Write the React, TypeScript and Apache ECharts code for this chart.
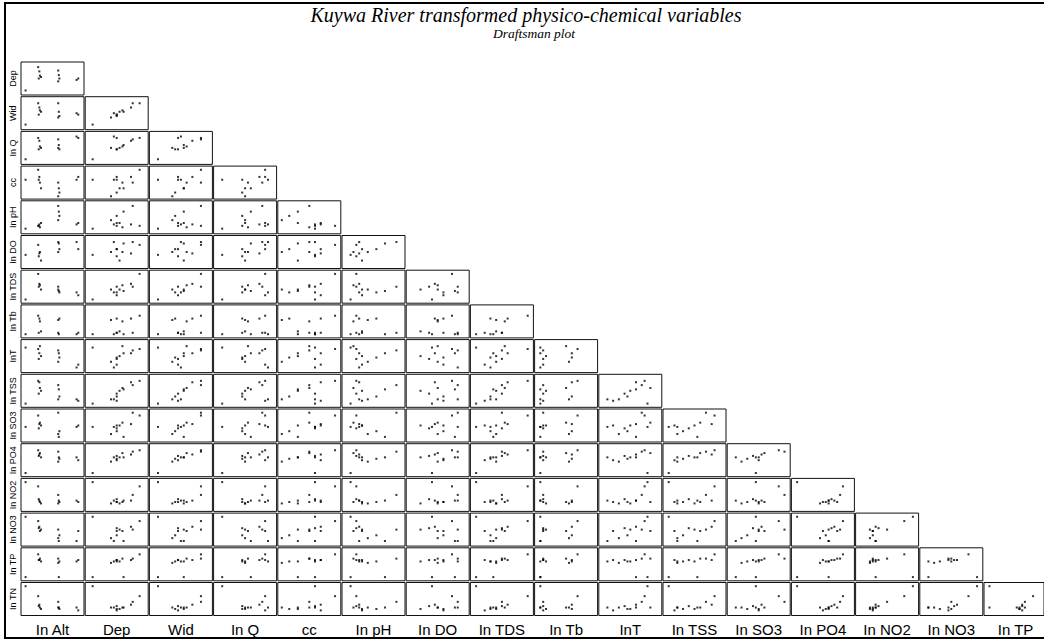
import React, { useEffect, useRef } from "react";
import * as echarts from "echarts";

// Column (x) variables and row (y) variables
const colLabels = ["In Alt", "Dep", "Wid", "In Q", "cc", "In pH", "In DO", "In TDS", "In Tb", "InT", "In TSS", "In SO3", "In PO4", "In NO2", "In NO3", "In TP"];
const rowLabels = ["Dep", "Wid", "In Q", "cc", "In pH", "In DO", "In TDS", "In Tb", "InT", "In TSS", "In SO3", "In PO4", "In NO2", "In NO3", "In TP", "In TN"];

// Scaled (0-1) transformed values per variable, 12 sampling sites
const alt = [0.03, 0.25, 0.27, 0.28, 0.30, 0.26, 0.60, 0.61, 0.62, 0.60, 0.92, 0.95];
const dep = [0.08, 0.9, 0.75, 0.6, 0.55, 0.5, 0.78, 0.62, 0.5, 0.4, 0.45, 0.5];
const wid = [0.1, 0.85, 0.7, 0.6, 0.55, 0.45, 0.85, 0.55, 0.4, 0.35, 0.5, 0.45];
const q = [0.1, 0.85, 0.75, 0.55, 0.5, 0.45, 0.8, 0.6, 0.45, 0.5, 0.9, 0.85];
const cc = [0.6, 0.95, 0.7, 0.5, 0.3, 0.6, 0.5, 0.3, 0.15, 0.02, 0.6, 0.7];
const ph = [0.1, 0.2, 0.25, 0.15, 0.3, 0.2, 0.9, 0.7, 0.55, 0.4, 0.25, 0.3];
const dO = [0.4, 0.75, 0.45, 0.5, 0.2, 0.35, 0.85, 0.8, 0.6, 0.5, 0.85, 0.6];
const tds = [0.05, 0.95, 0.6, 0.55, 0.4, 0.5, 0.5, 0.35, 0.3, 0.4, 0.3, 0.2];
const tb = [0.05, 0.7, 0.6, 0.5, 0.15, 0.1, 0.1, 0.05, 0.6, 0.55, 0.05, 0.1];
const temp = [0.8, 0.75, 0.6, 0.85, 0.5, 0.4, 0.7, 0.6, 0.45, 0.3, 0.1, 0.2];
const tss = [0.05, 0.85, 0.8, 0.6, 0.5, 0.4, 0.7, 0.55, 0.3, 0.2, 0.2, 0.15];
const so3 = [0.45, 0.85, 0.55, 0.6, 0.5, 0.4, 0.95, 0.1, 0.3, 0.2, 0.45, 0.5];
const po4 = [0.05, 0.85, 0.7, 0.75, 0.6, 0.65, 0.8, 0.6, 0.55, 0.45, 0.6, 0.5];
const no2 = [0.95, 0.8, 0.3, 0.25, 0.2, 0.35, 0.5, 0.3, 0.25, 0.2, 0.3, 0.25];
const no3 = [0.95, 0.8, 0.6, 0.45, 0.5, 0.55, 0.5, 0.1, 0.3, 0.2, 0.1, 0.45];
const tp = [0.05, 0.85, 0.65, 0.7, 0.6, 0.65, 0.7, 0.05, 0.6, 0.55, 0.6, 0.65];
const tn = [0.95, 0.6, 0.3, 0.2, 0.15, 0.25, 0.4, 0.2, 0.15, 0.2, 0.2, 0.1];

const colData = [alt, dep, wid, q, cc, ph, dO, tds, tb, temp, tss, so3, po4, no2, no3, tp];
const rowData = [dep, wid, q, cc, ph, dO, tds, tb, temp, tss, so3, po4, no2, no3, tp, tn];

const titleText = "Kuywa River transformed physico-chemical variables";
const subtitleText = "Draftsman plot";

export default function App() {
  const ref = useRef<HTMLDivElement>(null);
  useEffect(() => {
    if (!ref.current) return;
    const chart = echarts.init(ref.current, null, { renderer: "svg" });
    const left0 = 21, colStep = 64.2, pw = 63;
    const top0 = 62, rowStep = 34.7, ph2 = 33;
    const grids: any[] = [];
    const xAxes: any[] = [];
    const yAxes: any[] = [];
    const series: any[] = [];
    const graphics: any[] = [];
    let k = 0;
    for (let r = 0; r < rowLabels.length; r++) {
      for (let c = 0; c <= r; c++) {
        grids.push({
          left: left0 + c * colStep,
          top: top0 + r * rowStep,
          width: pw,
          height: ph2,
          show: true,
          borderColor: "#111",
          borderWidth: 1,
          backgroundColor: "#fff",
          containLabel: false,
        });
        xAxes.push({ type: "value", gridIndex: k, min: -0.05, max: 1.05, show: false });
        yAxes.push({ type: "value", gridIndex: k, min: -0.08, max: 1.08, show: false });
        const xs = colData[c];
        const ys = rowData[r];
        series.push({
          type: "scatter",
          xAxisIndex: k,
          yAxisIndex: k,
          symbol: "rect",
          symbolSize: 2,
          itemStyle: { color: "#000" },
          data: xs.map((x, i) => [x, ys[i]]),
          silent: true,
        });
        k++;
      }
      graphics.push({
        type: "text",
        x: 12.5,
        y: top0 + r * rowStep + ph2 / 2,
        rotation: Math.PI / 2,
        style: {
          text: rowLabels[r],
          fontFamily: "Liberation Sans, Arial, sans-serif",
          fontSize: 9,
          fill: "#000",
          align: "center",
          verticalAlign: "middle",
        },
      });
    }
    colLabels.forEach((lab, c) => {
      graphics.push({
        type: "text",
        x: left0 + c * colStep + pw / 2,
        y: 629,
        style: {
          text: lab,
          fontFamily: "Liberation Sans, Arial, sans-serif",
          fontSize: 15,
          fill: "#000",
          align: "center",
          verticalAlign: "middle",
        },
      });
    });
    graphics.push({
      type: "text",
      x: 526,
      y: 15,
      style: {
        text: titleText,
        fontFamily: "Liberation Serif, Times New Roman, serif",
        fontStyle: "italic",
        fontSize: 20,
        fill: "#000",
        align: "center",
        verticalAlign: "middle",
      },
    });
    graphics.push({
      type: "text",
      x: 534,
      y: 33,
      style: {
        text: subtitleText,
        fontFamily: "Liberation Serif, Times New Roman, serif",
        fontStyle: "italic",
        fontSize: 13.5,
        fill: "#000",
        align: "center",
        verticalAlign: "middle",
      },
    });
    graphics.push({
      type: "rect",
      shape: { x: 5, y: 3, width: 1045, height: 635 },
      style: { fill: "none", stroke: "#000", lineWidth: 2 },
      z: 100,
    });
    chart.setOption({
      animation: false,
      backgroundColor: "#fff",
      grid: grids,
      xAxis: xAxes,
      yAxis: yAxes,
      series,
      graphic: graphics,
    });
    return () => chart.dispose();
  }, []);
  return (
    <div
      ref={ref}
      style={{ position: "fixed", left: 0, top: 0, width: 1044, height: 641 }}
    />
  );
}
